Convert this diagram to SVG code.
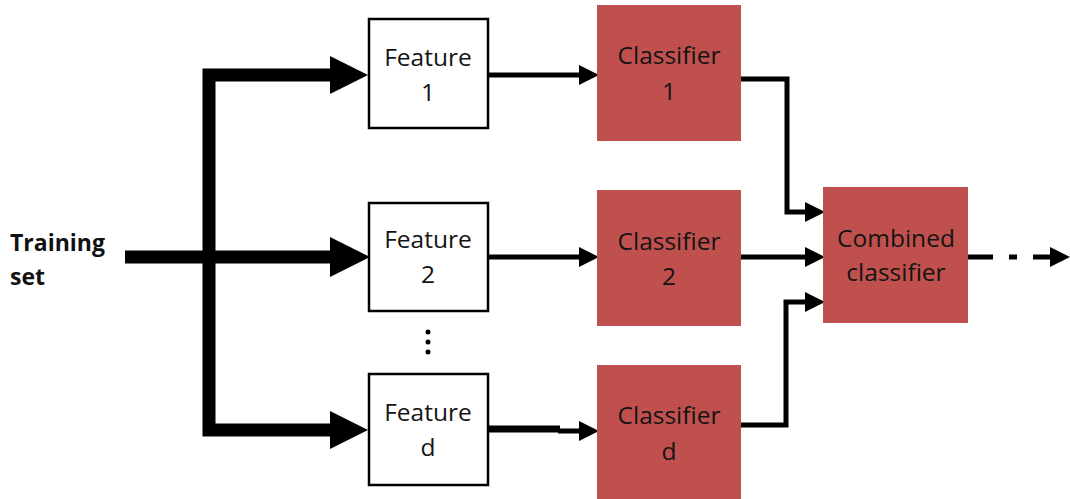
<svg xmlns="http://www.w3.org/2000/svg" width="1070" height="499" viewBox="0 0 1070 499">
  <defs>
    <style>
      .feat { fill: #ffffff; stroke: #000000; stroke-width: 2.5; }
      .clf { fill: #C0504D; stroke: none; }
      .lbl { font-family: "Open Sans", "Liberation Sans", sans-serif; font-size: 24.5px; fill: #141414; text-anchor: middle; }
      .bold { font-family: "Open Sans", "Liberation Sans", sans-serif; font-size: 23px; font-weight: bold; fill: #111111; }
      .thick { fill: none; stroke: #000000; stroke-width: 13; stroke-linejoin: miter; }
      .thin { fill: none; stroke: #000000; stroke-width: 5; stroke-linejoin: miter; }
    </style>
    <marker id="headBig" markerUnits="userSpaceOnUse" markerWidth="40" markerHeight="40" viewBox="0 0 38 38" refX="0" refY="19" orient="auto">
      <polygon points="0,0 38,19 0,38" fill="#000000"/>
    </marker>
    <marker id="headSmall" markerUnits="userSpaceOnUse" markerWidth="20" markerHeight="20" viewBox="0 0 18 18" refX="0" refY="9" orient="auto">
      <polygon points="0,0 18,9 0,18" fill="#000000"/>
    </marker>
  </defs>

  <rect width="1070" height="499" fill="#ffffff"/>

  <!-- connectors -->
  <g id="connectors">
    <!-- training set fan-out -->
    <path class="thick" d="M125,257 H330" marker-end="url(#headBig)"/>
    <path class="thick" d="M330,75 H209 V430 H330"/>
    <path d="M330,56 L368,75 L330,94 Z" fill="#000000"/>
    <path d="M330,411 L368,430 L330,449 Z" fill="#000000"/>

    <!-- features to classifiers -->
    <path class="thin" d="M488,75 H579" marker-end="url(#headSmall)"/>
    <path class="thin" d="M488,257 H579" marker-end="url(#headSmall)"/>
    <path fill="none" stroke="#000000" stroke-width="7" d="M488,429 H560"/>
    <path class="thin" d="M558,431 H579" marker-end="url(#headSmall)"/>

    <!-- classifiers to combined classifier -->
    <path class="thin" d="M741,79 H787 V212 H805" marker-end="url(#headSmall)"/>
    <path class="thin" d="M741,257 H805" marker-end="url(#headSmall)"/>
    <path class="thin" d="M741,425 H786 V302 H805" marker-end="url(#headSmall)"/>

    <!-- dashed output -->
    <path class="thin" d="M968,257 H993 M1009,257 H1017 M1033,257 H1050" marker-end="url(#headSmall)"/>
  </g>

  <!-- input label -->
  <g id="training-set">
    <text class="bold" x="10" y="251">Training</text>
    <text class="bold" x="10" y="285">set</text>
  </g>

  <!-- feature extractors -->
  <g id="feature-1">
    <rect class="feat" x="369" y="19" width="119" height="109"/>
    <text class="lbl" x="428" y="66">Feature</text>
    <text class="lbl" x="428" y="101">1</text>
  </g>
  <g id="feature-2">
    <rect class="feat" x="369" y="203" width="119" height="108"/>
    <text class="lbl" x="428" y="248">Feature</text>
    <text class="lbl" x="428" y="283">2</text>
  </g>
  <g id="ellipsis">
    <circle cx="428" cy="332" r="2.5" fill="#000000"/>
    <circle cx="428" cy="342" r="2.5" fill="#000000"/>
    <circle cx="428" cy="352" r="2.5" fill="#000000"/>
  </g>
  <g id="feature-d">
    <rect class="feat" x="369" y="374" width="119" height="111"/>
    <text class="lbl" x="428" y="421">Feature</text>
    <text class="lbl" x="428" y="456">d</text>
  </g>

  <!-- classifiers -->
  <g id="classifier-1">
    <rect class="clf" x="597" y="5" width="144" height="136"/>
    <text class="lbl" x="669" y="64">Classifier</text>
    <text class="lbl" x="669" y="100">1</text>
  </g>
  <g id="classifier-2">
    <rect class="clf" x="597" y="190" width="144" height="136"/>
    <text class="lbl" x="669" y="250">Classifier</text>
    <text class="lbl" x="669" y="285">2</text>
  </g>
  <g id="classifier-d">
    <rect class="clf" x="597" y="365" width="144" height="134"/>
    <text class="lbl" x="669" y="424">Classifier</text>
    <text class="lbl" x="669" y="460">d</text>
  </g>

  <!-- combined classifier -->
  <g id="combined-classifier">
    <rect class="clf" x="823" y="187" width="145" height="136"/>
    <text class="lbl" x="896" y="247">Combined</text>
    <text class="lbl" x="896" y="281">classifier</text>
  </g>
</svg>
